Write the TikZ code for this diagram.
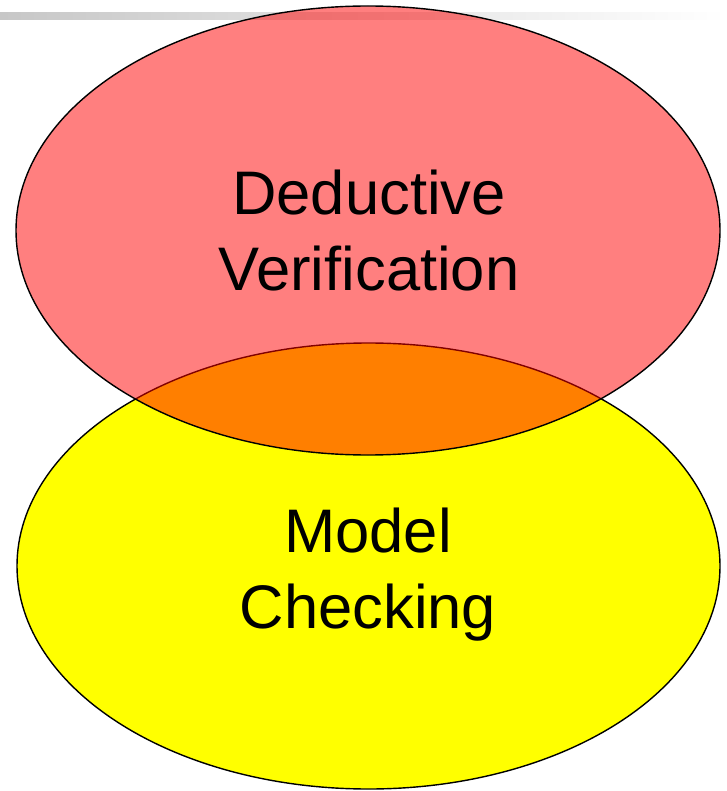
\documentclass[tikz,border=0pt]{standalone}
\usepackage{fontspec}
\setmainfont{Liberation Sans}
\usetikzlibrary{positioning}
\definecolor{dvred}{RGB}{255,0,0}
\definecolor{mcyellow}{RGB}{255,255,0}
\tikzset{
	blob/.style={draw=black, line width=1.4pt},
	label text/.style={align=center, font=\fontsize{61.5}{76}\selectfont}
}

\begin{document}
\begin{tikzpicture}[x=1pt, y=-1pt]
	\useasboundingbox (0,0) rectangle (726,791);
	\shade [left color=black!22, right color=white] (0,13) rectangle (726,20);
	\filldraw [blob, fill=mcyellow] (368.5,566) ellipse [x radius=351.5pt, y radius=223pt];
	\filldraw [blob, fill=dvred, fill opacity=0.5] (368,230.5) ellipse [x radius=352pt, y radius=224.5pt];
	\node (DV) [label text] at (369,231) {Deductive\\Verification};
	\node (MC) [label text] at (368,575) {Model\\Checking};
\end{tikzpicture}
\end{document}
